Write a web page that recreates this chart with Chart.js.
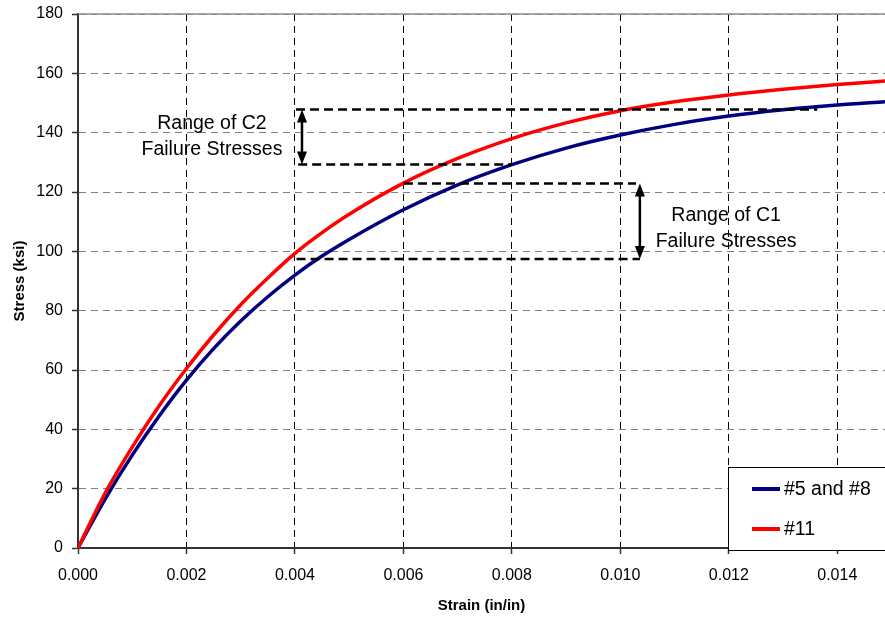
<!DOCTYPE html>
<html>
<head>
<meta charset="utf-8">
<script src="https://cdn.jsdelivr.net/npm/chart.js@4"></script>
<style>
  html, body { margin: 0; padding: 0; background: #fff; }
  #wrap { width: 885px; height: 617px; }
</style>
</head>
<body>
<div id="wrap"><canvas id="myChart" width="885" height="617"></canvas></div>
<script>
// strain (in/in) and stress (ksi) for the two bar groups
var strain58 = [0, 0.0005, 0.001, 0.0015, 0.002, 0.0025, 0.003, 0.0035, 0.004, 0.0045, 0.005, 0.006, 0.007, 0.008, 0.009, 0.010, 0.011, 0.012, 0.013, 0.014, 0.01488]
var stress58 = [0, 16.5, 31.3, 44.6, 56.6, 67.2, 76.5, 84.7, 92, 98.4, 104, 114, 122.4, 129.2, 134.8, 139.2, 142.8, 145.6, 147.7, 149.3, 150.4]
var strain11 = [0, 0.0005, 0.001, 0.0015, 0.002, 0.0025, 0.003, 0.0035, 0.004, 0.0045, 0.005, 0.006, 0.007, 0.008, 0.009, 0.010, 0.011, 0.012, 0.013, 0.014, 0.01488]
var stress11 = [0, 18.5, 34, 48, 60.5, 71.8, 82, 91, 99.3, 106.3, 112.5, 123, 131.3, 138, 143.3, 147.4, 150.4, 152.7, 154.6, 156.2, 157.4]

var seriesNames = ['#5 and #8', '#11']
var seriesColors = ['#000080', '#ff0000']

// failure stress ranges: [low, high] ksi
var rangeC1 = [97.4, 122.9]
var rangeC2 = [129.3, 147.8]
var yTicks = [0, 20, 40, 60, 80, 100, 120, 140, 160, 180]

var FONT = 'Liberation Sans, Arial, sans-serif'

function pts(xs, ys) {
    return xs.map(function (x, i) { return { x: x, y: ys[i] } })
}

function dashLine(x1, x2, y) {
    return {
        data: [{ x: x1, y: y }, { x: x2, y: y }],
        borderColor: '#000',
        borderWidth: 2.5,
        borderDash: [9, 5],
        pointRadius: 0,
        order: -1
    }
}

var guides = {
    id: 'guides',
    afterDatasetsDraw: function (chart) {
        var c = chart.ctx
        var xs = chart.scales.x, ys = chart.scales.y

        function arrow(xv, y1v, y2v) {
            var x = xs.getPixelForValue(xv)
            var a = ys.getPixelForValue(y1v), b = ys.getPixelForValue(y2v)
            c.save()
            c.strokeStyle = '#000'
            c.fillStyle = '#000'
            c.lineWidth = 2.5
            c.beginPath()
            c.moveTo(x, a + 10)
            c.lineTo(x, b - 10)
            c.stroke()
            c.beginPath()
            c.moveTo(x, a); c.lineTo(x - 5, a + 13); c.lineTo(x + 5, a + 13); c.closePath()
            c.fill()
            c.beginPath()
            c.moveTo(x, b); c.lineTo(x - 5, b - 13); c.lineTo(x + 5, b - 13); c.closePath()
            c.fill()
            c.restore()
        }
        arrow(0.00413, rangeC2[1], rangeC2[0])
        arrow(0.01036, rangeC1[1], rangeC1[0])

        c.save()
        c.fillStyle = '#000'
        c.font = '19.5px ' + FONT
        c.textAlign = 'center'
        c.textBaseline = 'middle'
        c.fillText('Range of C2', xs.getPixelForValue(0.00247), ys.getPixelForValue(143.2))
        c.fillText('Failure Stresses', xs.getPixelForValue(0.00247), ys.getPixelForValue(134.4))
        c.fillText('Range of C1', xs.getPixelForValue(0.01195), ys.getPixelForValue(112.2))
        c.fillText('Failure Stresses', xs.getPixelForValue(0.01195), ys.getPixelForValue(103.4))
        c.restore()

        // top frame line
        var ca = chart.chartArea
        c.save()
        c.strokeStyle = '#8c8c8c'
        c.lineWidth = 1.5
        c.beginPath()
        c.moveTo(ca.left, ca.top)
        c.lineTo(ca.right, ca.top)
        c.stroke()
        c.restore()

        // legend box
        c.save()
        c.fillStyle = '#fff'
        c.strokeStyle = '#000'
        c.lineWidth = 1
        c.fillRect(728.5, 467.5, 160, 83)
        c.strokeRect(728.5, 467.5, 160, 83)
        c.font = '19.5px ' + FONT
        c.textBaseline = 'middle'
        c.textAlign = 'left'
        seriesNames.forEach(function (name, i) {
            var y = 489 + i * 40
            c.strokeStyle = seriesColors[i]
            c.lineWidth = 4
            c.beginPath()
            c.moveTo(752, y)
            c.lineTo(780, y)
            c.stroke()
            c.fillStyle = '#000'
            c.fillText(name, 784, y + 1)
        })
        c.restore()
    }
}

const ctx = document.getElementById('myChart')
new Chart(ctx, {
    type: 'line',
    data: {
        datasets: [
            {
                label: seriesNames[0],
                data: pts(strain58, stress58),
                borderColor: seriesColors[0],
                borderWidth: 3.5,
                pointRadius: 0,
                cubicInterpolationMode: 'monotone',
                order: 1
            },
            {
                label: seriesNames[1],
                data: pts(strain11, stress11),
                borderColor: seriesColors[1],
                borderWidth: 3.5,
                pointRadius: 0,
                cubicInterpolationMode: 'monotone',
                order: 0
            },
            dashLine(0.00402, 0.01363, rangeC2[1]),
            dashLine(0.00406, 0.008, rangeC2[0]),
            dashLine(0.00601, 0.01029, rangeC1[1]),
            dashLine(0.00403, 0.01036, rangeC1[0])
        ]
    },
    options: {
        responsive: false,
        animation: false,
        layout: { padding: { top: 14, right: 0, left: 0, bottom: 0 } },
        plugins: {
            legend: { display: false },
            tooltip: { enabled: false }
        },
        scales: {
            x: {
                type: 'linear',
                min: 0,
                max: 0.01488,
                afterFit: function (s) { s.height = 69; s.paddingLeft = 0; s.paddingRight = 0 },
                ticks: {
                    stepSize: 0.002,
                    includeBounds: false,
                    maxRotation: 0,
                    autoSkip: false,
                    padding: 12,
                    color: '#000',
                    font: { family: FONT, size: 16 },
                    callback: function (v) { return v.toFixed(3) }
                },
                grid: {
                    color: '#000',
                    lineWidth: 1,
                    tickLength: 6,
                    tickColor: '#333',
                    tickWidth: 1.5
                },
                border: { color: '#333', width: 2, dash: [7, 5] },
                title: {
                    display: true,
                    text: 'Strain (in/in)',
                    color: '#000',
                    font: { family: FONT, size: 15, weight: 'bold' },
                    padding: { top: 0, bottom: 2 }
                }
            },
            y: {
                min: 0,
                max: 180,
                afterFit: function (s) { s.width = 78; s.paddingTop = 0; s.paddingBottom = 0 },
                afterBuildTicks: function (s) { s.ticks = yTicks.map(function (v) { return { value: v } }) },
                ticks: {
                    padding: 9,
                    color: '#000',
                    font: { family: FONT, size: 16 }
                },
                grid: {
                    color: '#808080',
                    lineWidth: 1,
                    tickLength: 6,
                    tickColor: '#333',
                    tickWidth: 1.5
                },
                border: { color: '#333', width: 2, dash: [7, 5] },
                title: {
                    display: true,
                    text: 'Stress (ksi)',
                    color: '#000',
                    font: { family: FONT, size: 15, weight: 'bold' },
                    padding: { top: 11, bottom: 0 }
                }
            }
        }
    },
    plugins: [guides]
})
</script>
</body>
</html>
